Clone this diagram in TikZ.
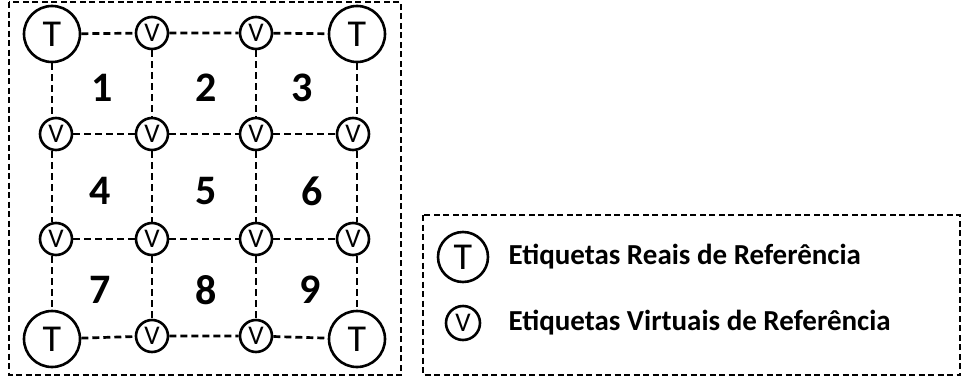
\documentclass[tikz,border=0pt]{standalone}
\usepackage{fontspec}
\setmainfont{Carlito}
\begin{document}
\begin{tikzpicture}[x=1pt,y=-1pt,
  dashline/.style={line width=2.7pt,dash pattern=on 7pt off 4pt},
  framedash/.style={line width=2.3pt,dash pattern=on 6pt off 3.5pt},
  bigtag/.style={circle,draw,line width=2.6pt,minimum size=56pt,inner sep=0pt,font=\fontsize{38}{38}\selectfont},
  smalltag/.style={circle,draw,line width=2.6pt,minimum size=32pt,inner sep=0pt,font=\fontsize{27}{27}\selectfont},
  cellnum/.style={font=\fontsize{42}{42}\selectfont\bfseries},
  legendtext/.style={anchor=west,font=\fontsize{29}{29}\selectfont\bfseries}]
\useasboundingbox (0,0) rectangle (963,383);
% outer frames
\draw[framedash] (9,2) rectangle (401,375);
\draw[framedash] (423,215) rectangle (960,375);
% reference tags
\node[bigtag] (t1) at (52,34) {T};
\node[smalltag] (v12) at (152,33) {V};
\node[smalltag] (v13) at (256,33) {V};
\node[bigtag] (t4) at (357,34) {T};
\node[smalltag] (v21) at (56,134) {V};
\node[smalltag] (v22) at (152,134) {V};
\node[smalltag] (v23) at (256,134) {V};
\node[smalltag] (v24) at (353,134) {V};
\node[smalltag] (v31) at (56,239) {V};
\node[smalltag] (v32) at (152,239) {V};
\node[smalltag] (v33) at (256,239) {V};
\node[smalltag] (v34) at (353,239) {V};
\node[bigtag] (b1) at (52,339) {T};
\node[smalltag] (v42) at (152,336) {V};
\node[smalltag] (v43) at (256,336) {V};
\node[bigtag] (b4) at (357,339) {T};
% horizontal links
\draw[dashline] (t1) -- (v12) -- (v13) -- (t4);
\draw[dashline] (v21) -- (v22) -- (v23) -- (v24);
\draw[dashline] (v31) -- (v32) -- (v33) -- (v34);
\draw[dashline] (b1) -- (v42) -- (v43) -- (b4);
% vertical links
\draw[dashline] (t1.south) -- (t1 |- v21.north);
\draw[dashline] (t1 |- v21.south) -- (t1 |- v31.north);
\draw[dashline] (t1 |- v31.south) -- (b1.north);
\draw[dashline] (v12) -- (v22) -- (v32) -- (v42);
\draw[dashline] (v13) -- (v23) -- (v33) -- (v43);
\draw[dashline] (t4.south) -- (t4 |- v24.north);
\draw[dashline] (t4 |- v24.south) -- (t4 |- v34.north);
\draw[dashline] (t4 |- v34.south) -- (b4.north);
% cell numbers
\node[cellnum] (n1) at (102,88) {1};
\node[cellnum] (n2) at (206,88) {2};
\node[cellnum] (n3) at (302,88) {3};
\node[cellnum] (n4) at (100,191) {4};
\node[cellnum] (n5) at (206,191) {5};
\node[cellnum] (n6) at (312,191) {6};
\node[cellnum] (n7) at (100,290) {7};
\node[cellnum] (n8) at (206,290) {8};
\node[cellnum] (n9) at (310,290) {9};
% legend
\node[bigtag,minimum size=50pt] (lt) at (463,257) {T};
\node[smalltag,minimum size=34pt] (lv) at (463,323) {V};
\node[legendtext] (ltext) at (505,257) {Etiquetas Reais de Referência};
\node[legendtext] (lvtext) at (505,323) {Etiquetas Virtuais de Referência};
\end{tikzpicture}
\end{document}
